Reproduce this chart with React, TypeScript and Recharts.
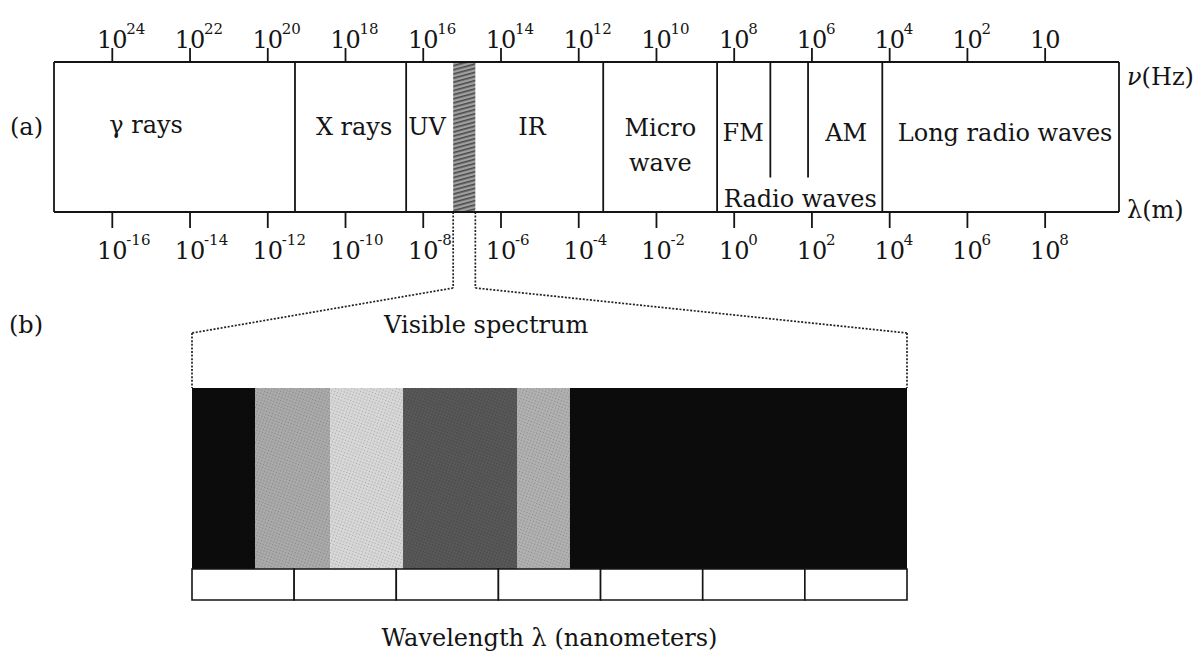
import React from "react";
import {
  ComposedChart,
  Scatter,
  XAxis,
  YAxis,
  ReferenceLine,
  ReferenceArea,
  ReferenceDot,
  Label,
} from "recharts";

const W = 1203;
const H = 661;
const SERIF = "'DejaVu Serif', 'Liberation Serif', serif";
const INK = "#141414";

// (a) frequency scale, log10(ν / Hz)
const NU_MIN = -1.9;
const NU_MAX = 25.5;
const nuTicks = [24, 22, 20, 18, 16, 14, 12, 10, 8, 6, 4, 2, 0];
const nuTickExps = ["24", "22", "20", "18", "16", "14", "12", "10", "8", "6", "4", "2", ""];

// wavelength scale printed under it, log10(λ / m) = 8 - log10(ν)
const LAMBDA_OFFSET = 8;
const lambdaTicks = [-16, -14, -12, -10, -8, -6, -4, -2, 0, 2, 4, 6, 8];
const lambdaTickExps = ["-16", "-14", "-12", "-10", "-8", "-6", "-4", "-2", "0", "2", "4", "6", "8"];

// region borders (log10 ν)
const bandBorders = [19.3, 16.44, 11.37, 8.44, 4.19];
const radioBorders = [7.07, 6.1];
const visibleBand = [14.66, 15.23];

const bandNames = ["γ rays", "X rays", "UV", "IR", "Micro", "wave", "FM", "AM", "Long radio waves", "Radio waves"];
const bandNameNu = [23.13, 17.78, 15.9, 13.2, 9.9, 9.9, 7.77, 5.12, 1.03, 6.3];
const bandNameLevel = [0.58, 0.57, 0.57, 0.57, 0.56, 0.33, 0.53, 0.53, 0.53, 0.09];

// (b) visible spectrum, nanometers
const NM_MIN = 400;
const NM_MAX = 750;
const nmBoxEdges = [400, 450, 500, 550, 600, 650, 700, 750];
const spectrumEdges = [400, 431, 467.6, 503.3, 559.1, 585, 750];
const spectrumShades = ["#0c0c0c", "#ababab", "#d9d9d9", "#585858", "#b2b2b2", "#0c0c0c"];

// page layout, px
const PANEL_A = { left: 54, right: 1119, top: 62, bottom: 212 };
const PANEL_B = { left: 192, right: 907, top: 388, bottom: 600 };
const B_PLOT_TOP = 300;
const STRIP_TOP = 0.146;
const RADIO_STUB_END = 0.23;
const KNEE_Y = 288;
const SHOULDER_Y = 333;

const levelA = (py: number) => (PANEL_A.bottom - py) / (PANEL_A.bottom - PANEL_A.top);
const levelB = (py: number) => (PANEL_B.bottom - py) / (PANEL_B.bottom - PANEL_B.top);
const nuAtPx = (px: number) =>
  NU_MAX - ((px - PANEL_A.left) / (PANEL_A.right - PANEL_A.left)) * (NU_MAX - NU_MIN);

const bandRows = bandNames.map((name, i) => ({
  name,
  nu: bandNameNu[i],
  lambda: LAMBDA_OFFSET - bandNameNu[i],
  level: bandNameLevel[i],
}));
const titleRows = [{ name: "Visible spectrum", nm: 544, level: levelB(325) }];

const PowerTick = (props: any) => {
  const { x, y, payload, ticks, exps, below } = props;
  const exp = exps[ticks.indexOf(payload.value)];
  const base = below ? y + 31 : y;
  return (
    <g>
      <text x={x} y={base} textAnchor="middle" fontFamily={SERIF} fontSize={24} fill={INK}>
        10
      </text>
      {exp ? (
        <text x={x + 14} y={base - 14} fontFamily={SERIF} fontSize={15} fill={INK}>
          {exp}
        </text>
      ) : null}
    </g>
  );
};

const Words = ({ x, y, children, anchor = "middle", size = 24 }: any) => (
  <text
    x={x}
    y={y}
    textAnchor={anchor}
    dominantBaseline="central"
    fontFamily={SERIF}
    fontSize={size}
    fill={INK}
  >
    {children}
  </text>
);

const textShape =
  (text: React.ReactNode, anchor = "middle", dx = 0) =>
  (p: any) => (
    <Words x={p.cx + dx} y={p.cy} anchor={anchor}>
      {text}
    </Words>
  );

const nameShape = (p: any) => (
  <Words x={p.cx} y={p.cy}>
    {p.payload?.name}
  </Words>
);

const line = { stroke: INK, strokeWidth: 1.8 };
const ax = { xAxisId: "nu", yAxisId: "lv", ifOverflow: "visible" as const };
const dotted = { stroke: "#222", strokeWidth: 1.7, strokeDasharray: "2 1.6" };

function SpectrumBands() {
  const leftX = nuAtPx(PANEL_B.left);
  const rightX = nuAtPx(PANEL_B.right);
  const left = [
    { x: visibleBand[1], y: 0 },
    { x: visibleBand[1], y: levelA(KNEE_Y) },
    { x: leftX, y: levelA(SHOULDER_Y) },
    { x: leftX, y: levelA(PANEL_B.top) },
  ];
  const right = [
    { x: visibleBand[0], y: 0 },
    { x: visibleBand[0], y: levelA(KNEE_Y) },
    { x: rightX, y: levelA(SHOULDER_Y) },
    { x: rightX, y: levelA(PANEL_B.top) },
  ];
  const segs = [left, right].flatMap((pts) => pts.slice(1).map((p, i) => [pts[i], p]));

  return (
    <ComposedChart
      width={W}
      height={H}
      data={bandRows}
      margin={{
        top: PANEL_A.top - 40,
        right: W - PANEL_A.right,
        bottom: H - PANEL_A.bottom - 50,
        left: PANEL_A.left,
      }}
    >
      <defs>
        <pattern id="visHatch" width="4" height="4" patternUnits="userSpaceOnUse" patternTransform="rotate(-15)">
          <rect width="4" height="4" fill="#a0a0a0" />
          <rect width="4" height="1.6" fill="#4a4a4a" />
        </pattern>
      </defs>
      <XAxis
        xAxisId="nu"
        dataKey="nu"
        type="number"
        orientation="top"
        domain={[NU_MIN, NU_MAX]}
        reversed
        allowDataOverflow
        ticks={nuTicks}
        interval={0}
        height={40}
        tickSize={14}
        tickMargin={0}
        axisLine={line}
        tickLine={line}
        tick={(p: any) => <PowerTick {...p} ticks={nuTicks} exps={nuTickExps} />}
      />
      <XAxis
        xAxisId="lambda"
        dataKey="lambda"
        type="number"
        orientation="bottom"
        domain={[LAMBDA_OFFSET - NU_MAX, LAMBDA_OFFSET - NU_MIN]}
        allowDataOverflow
        ticks={lambdaTicks}
        interval={0}
        height={50}
        tickSize={16}
        tickMargin={0}
        axisLine={line}
        tickLine={line}
        tick={(p: any) => <PowerTick {...p} ticks={lambdaTicks} exps={lambdaTickExps} below />}
      />
      <YAxis yAxisId="lv" dataKey="level" type="number" domain={[0, 1]} allowDataOverflow hide width={0} />

      <ReferenceArea {...ax} x1={visibleBand[0]} x2={visibleBand[1]} y1={0} y2={1} fill="url(#visHatch)" fillOpacity={1} stroke="none" />
      <ReferenceLine {...ax} x={NU_MAX} {...line} />
      <ReferenceLine {...ax} x={NU_MIN} {...line} />
      {bandBorders.map((b) => (
        <ReferenceLine key={b} {...ax} x={b} {...line} />
      ))}
      {radioBorders.map((b) => (
        <ReferenceLine key={b} {...ax} segment={[{ x: b, y: 1 }, { x: b, y: RADIO_STUB_END }]} {...line} />
      ))}
      {segs.map((s, i) => (
        <ReferenceLine key={"c" + i} {...ax} segment={s} {...dotted} />
      ))}

      <Scatter xAxisId="nu" yAxisId="lv" data={bandRows} dataKey="level" shape={nameShape} isAnimationActive={false} />

      <ReferenceDot {...ax} x={NU_MAX} y={levelA(127)} r={0} shape={textShape("(a)", "end", -11)} />
      <ReferenceDot {...ax} x={NU_MAX} y={levelA(325)} r={0} shape={textShape("(b)", "end", -11)} />
      <ReferenceDot
        {...ax}
        x={NU_MIN}
        y={levelA(77)}
        r={0}
        shape={textShape(
          <>
            <tspan fontStyle="italic">ν</tspan>(Hz)
          </>,
          "start",
          8
        )}
      />
      <ReferenceDot {...ax} x={NU_MIN} y={levelA(210)} r={0} shape={textShape("λ(m)", "start", 8)} />
    </ComposedChart>
  );
}

function VisibleSpectrum() {
  const bx = { xAxisId: "nm", yAxisId: "lvB", ifOverflow: "visible" as const };
  return (
    <ComposedChart
      width={W}
      height={H}
      data={titleRows}
      margin={{
        top: B_PLOT_TOP,
        right: W - PANEL_B.right,
        bottom: H - PANEL_B.bottom - 50,
        left: PANEL_B.left,
      }}
    >
      <defs>
        <pattern id="screen" width="3" height="3" patternUnits="userSpaceOnUse" patternTransform="rotate(20)">
          <circle cx="1.5" cy="1.5" r="0.7" fill="#000" fillOpacity="0.22" />
        </pattern>
      </defs>
      <XAxis
        xAxisId="nm"
        dataKey="nm"
        type="number"
        domain={[NM_MIN, NM_MAX]}
        allowDataOverflow
        ticks={nmBoxEdges}
        tick={false}
        tickLine={false}
        axisLine={false}
        height={50}
      >
        <Label
          value="Wavelength λ (nanometers)"
          position="insideBottom"
          offset={4}
          fontFamily={SERIF}
          fontSize={24}
          fill={INK}
        />
      </XAxis>
      <YAxis
        yAxisId="lvB"
        dataKey="level"
        type="number"
        domain={[0, levelB(B_PLOT_TOP)]}
        allowDataOverflow
        hide
        width={0}
      />

      {spectrumShades.map((c, i) => (
        <ReferenceArea
          key={i}
          {...bx}
          x1={spectrumEdges[i]}
          x2={spectrumEdges[i + 1]}
          y1={STRIP_TOP}
          y2={1}
          fill={c}
          fillOpacity={1}
          stroke="none"
        />
      ))}
      <ReferenceArea {...bx} x1={NM_MIN} x2={NM_MAX} y1={STRIP_TOP} y2={1} fill="url(#screen)" fillOpacity={1} stroke="none" />
      {nmBoxEdges.slice(1).map((e, i) => (
        <ReferenceArea
          key={e}
          {...bx}
          x1={nmBoxEdges[i]}
          x2={e}
          y1={0}
          y2={STRIP_TOP}
          fill="#fff"
          fillOpacity={1}
          stroke={INK}
          strokeWidth={1.6}
        />
      ))}
      <Scatter xAxisId="nm" yAxisId="lvB" data={titleRows} dataKey="level" shape={nameShape} isAnimationActive={false} />
    </ComposedChart>
  );
}

export default function App() {
  return (
    <div style={{ position: "absolute", left: 0, top: 0, width: W, height: H, background: "#fff" }}>
      <div style={{ position: "absolute", left: 0, top: 0 }}>
        <SpectrumBands />
      </div>
      <div style={{ position: "absolute", left: 0, top: 0 }}>
        <VisibleSpectrum />
      </div>
    </div>
  );
}
